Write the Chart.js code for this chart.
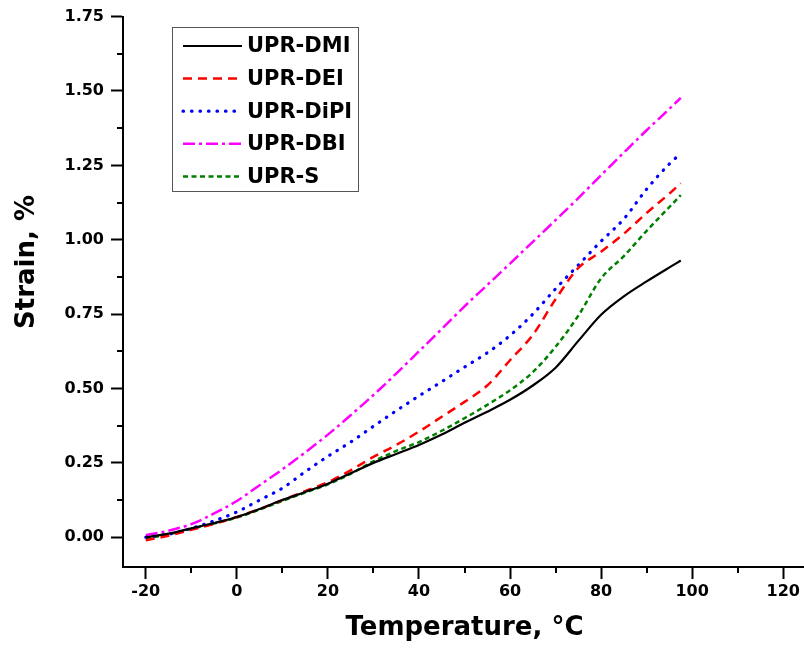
<!DOCTYPE html>
<html>
<head>
<meta charset="utf-8">
<script src="https://cdn.jsdelivr.net/npm/chart.js@4.4.1/dist/chart.umd.min.js"></script>
<style>
    html, body { margin: 0; padding: 0; background: #fff; overflow: hidden; }
    #wrap { width: 830px; height: 650px; }
</style>
</head>
<body>
<div id="wrap"><canvas id="strain-chart" width="830" height="650"></canvas></div>
<script>
    "use strict";

    // Data (temperature in °C, strain in %)
    var temps = [-20, -15, -10, -5, 0, 5, 10, 15, 20, 25, 30, 35, 40, 45, 50, 55, 60, 65, 70, 75, 80, 85, 90, 95, 97.5];
    var dmi  = [0.000, 0.012, 0.030, 0.048, 0.068, 0.095, 0.125, 0.152, 0.180, 0.215, 0.250, 0.280, 0.310, 0.345, 0.385, 0.422, 0.462, 0.510, 0.570, 0.660, 0.748, 0.810, 0.860, 0.907, 0.930];
    var dei  = [-0.010, 0.005, 0.025, 0.045, 0.068, 0.095, 0.125, 0.155, 0.185, 0.225, 0.270, 0.310, 0.355, 0.405, 0.455, 0.510, 0.595, 0.680, 0.800, 0.905, 0.960, 1.020, 1.090, 1.155, 1.190];
    var dipi = [0.000, 0.010, 0.030, 0.055, 0.085, 0.125, 0.165, 0.220, 0.272, 0.320, 0.373, 0.425, 0.475, 0.523, 0.572, 0.620, 0.678, 0.750, 0.835, 0.915, 0.995, 1.070, 1.170, 1.255, 1.290];
    var dbi  = [0.007, 0.022, 0.044, 0.080, 0.122, 0.175, 0.228, 0.285, 0.345, 0.410, 0.478, 0.550, 0.625, 0.700, 0.776, 0.848, 0.920, 0.993, 1.066, 1.140, 1.217, 1.293, 1.368, 1.440, 1.477];
    var upS  = [-0.005, 0.010, 0.028, 0.046, 0.066, 0.093, 0.122, 0.150, 0.178, 0.213, 0.255, 0.290, 0.320, 0.358, 0.400, 0.445, 0.494, 0.555, 0.640, 0.745, 0.870, 0.945, 1.030, 1.110, 1.150];

    var xTicks = [-20, 0, 20, 40, 60, 80, 100, 120];
    var xMinor = [-10, 10, 30, 50, 70, 90, 110];
    var yTicks = [0, 0.25, 0.5, 0.75, 1.0, 1.25, 1.5, 1.75];
    var yMinor = [0.125, 0.375, 0.625, 0.875, 1.125, 1.375, 1.625];

    function pts(arr) {
        return temps.map(function (t, i) { return {x: t, y: arr[i]}; });
    }

    var series = [
        {label: "UPR-DMI",  data: dmi,  color: "#000000", dash: [],           width: 2.2, cap: "butt"},
        {label: "UPR-DEI",  data: dei,  color: "#ff0000", dash: [9, 6],       width: 2.5, cap: "butt"},
        {label: "UPR-DiPI", data: dipi, color: "#0000ff", dash: [0.5, 8],     width: 3.2, cap: "round"},
        {label: "UPR-DBI",  data: dbi,  color: "#ff00ff", dash: [12, 4, 3, 4], width: 2.5, cap: "butt"},
        {label: "UPR-S",    data: upS,  color: "#008000", dash: [5, 3.5],     width: 2.5, cap: "butt"}
    ];

    // Legend box, minor ticks and y title
    var framePlugin = {
        id: "frame",
        afterDraw: function (chart) {
            var ctx = chart.ctx;
            var xs = chart.scales.x, ys = chart.scales.y;
            ctx.save();

            // minor ticks
            ctx.strokeStyle = "#000";
            ctx.lineWidth = 2;
            ctx.beginPath();
            xMinor.forEach(function (v) {
                var px = Math.round(xs.getPixelForValue(v));
                ctx.moveTo(px, xs.top);
                ctx.lineTo(px, xs.top + 6);
            });
            yMinor.forEach(function (v) {
                var py = Math.round(ys.getPixelForValue(v));
                ctx.moveTo(ys.right - 6, py);
                ctx.lineTo(ys.right, py);
            });
            ctx.stroke();

            // y title
            ctx.save();
            ctx.translate(27, 262);
            ctx.rotate(-Math.PI / 2);
            ctx.font = "bold 26px 'DejaVu Sans'";
            ctx.fillStyle = "#000";
            ctx.textAlign = "center";
            ctx.textBaseline = "middle";
            ctx.fillText("Strain, %", 0, 0);
            ctx.restore();

            // legend
            ctx.lineWidth = 1;
            ctx.strokeStyle = "#555";
            ctx.strokeRect(172.5, 27.5, 186, 164);
            ctx.font = "bold 21px 'DejaVu Sans'";
            ctx.textBaseline = "middle";
            ctx.textAlign = "left";
            series.forEach(function (s, i) {
                var y = 46 + i * 32.6;
                ctx.strokeStyle = s.color;
                ctx.lineWidth = s.width;
                ctx.lineCap = s.cap;
                ctx.setLineDash(s.dash);
                ctx.beginPath();
                ctx.moveTo(183, y);
                ctx.lineTo(242, y);
                ctx.stroke();
                ctx.setLineDash([]);
                ctx.fillStyle = "#000";
                ctx.fillText(s.label, 247, y + 1);
            });
            ctx.restore();
        }
    };

    Chart.defaults.font.family = "'DejaVu Sans'";
    Chart.defaults.font.weight = "bold";
    Chart.defaults.color = "#000";

    var ctx1 = document.getElementById("strain-chart").getContext("2d");
    var myChart = new Chart(ctx1, {
        type: "line",
        data: {
            datasets: series.map(function (s) {
                return {
                    label: s.label,
                    data: pts(s.data),
                    borderColor: s.color,
                    borderWidth: s.width,
                    borderDash: s.dash,
                    borderCapStyle: s.cap,
                    pointRadius: 0,
                    fill: false,
                    cubicInterpolationMode: "monotone"
                };
            })
        },
        options: {
            responsive: false,
            animation: false,
            layout: {padding: {left: 0, top: 16, right: 24, bottom: 0}},
            plugins: {
                legend: {display: false},
                tooltip: {enabled: false}
            },
            scales: {
                x: {
                    type: "linear",
                    min: -25,
                    max: 125,
                    afterFit: function (s) { s.height = 83; },
                    afterBuildTicks: function (s) { s.ticks = xTicks.map(function (v) { return {value: v}; }); },
                    border: {color: "#000", width: 2},
                    grid: {drawOnChartArea: false, tickLength: 12, tickWidth: 2, tickColor: "#000"},
                    ticks: {font: {size: 16, weight: "bold"}, padding: 3, maxRotation: 0},
                    title: {
                        display: true,
                        text: "Temperature, °C",
                        font: {size: 26, weight: "bold"},
                        padding: {top: 0, bottom: 6}
                    }
                },
                y: {
                    type: "linear",
                    min: -0.1,
                    max: 1.75,
                    afterFit: function (s) { s.width = 123; },
                    afterBuildTicks: function (s) { s.ticks = yTicks.map(function (v) { return {value: v}; }); },
                    border: {color: "#000", width: 2},
                    grid: {drawOnChartArea: false, tickLength: 12, tickWidth: 2, tickColor: "#000"},
                    ticks: {
                        font: {size: 16, weight: "bold"},
                        padding: 7,
                        callback: function (v) { return Number(v).toFixed(2); }
                    }
                }
            }
        },
        plugins: [framePlugin]
    });
</script>
</body>
</html>
